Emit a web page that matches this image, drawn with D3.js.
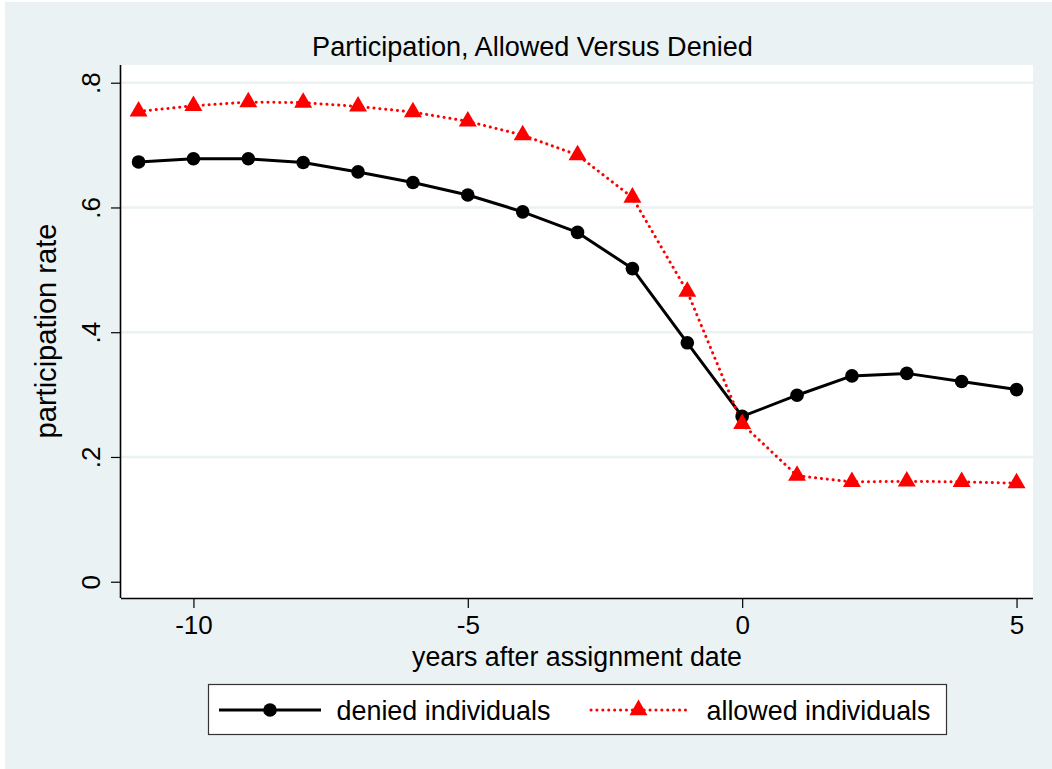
<!DOCTYPE html>
<html>
<head>
<meta charset="utf-8">
<script src="https://cdn.jsdelivr.net/npm/d3@7"></script>
<style>
  html, body { margin: 0; padding: 0; background: #ffffff; }
  svg { display: block; }
  text { font-family: "Liberation Sans", Arial, Helvetica, sans-serif; fill: #000; }
</style>
</head>
<body>
<svg id="chart" width="1052" height="769"></svg>
<script>
// ---- data ----
const years = [-11, -10, -9, -8, -7, -6, -5, -4, -3, -2, -1, 0, 1, 2, 3, 4, 5];
const denied = [0.673, 0.678, 0.678, 0.672, 0.657, 0.640, 0.620, 0.593, 0.560, 0.502, 0.383, 0.265, 0.299, 0.330, 0.334, 0.321, 0.308];
const allowed = [0.754, 0.763, 0.769, 0.768, 0.762, 0.753, 0.738, 0.716, 0.684, 0.616, 0.465, 0.253, 0.170, 0.160, 0.161, 0.160, 0.158];
const xTicks = [-10, -5, 0, 5];
const xTickLabels = ["-10", "-5", "0", "5"];
const yTicks = [0, 0.2, 0.4, 0.6, 0.8];
const yTickLabels = ["0", ".2", ".4", ".6", ".8"];
const gridValues = [0.2, 0.4, 0.6, 0.8];
const seriesNames = ["denied individuals", "allowed individuals"];
const titleText = "Participation, Allowed Versus Denied";
const xTitle = "years after assignment date";
const yTitle = "participation rate";

// ---- layout ----
const W = 1052, H = 769;
const plot = { left: 121, right: 1033, top: 65, bottom: 598 };
const BG = "#EAF2F3";
const fs = 26;

const svg = d3.select("#chart");
svg.append("rect").attr("x", 0).attr("y", 0).attr("width", W).attr("height", H).attr("fill", "#ffffff");
svg.append("rect").attr("x", 5).attr("y", 2).attr("width", W - 5).attr("height", H - 2).attr("fill", BG);
svg.append("rect").attr("x", plot.left).attr("y", plot.top)
  .attr("width", plot.right - plot.left).attr("height", plot.bottom - plot.top).attr("fill", "#ffffff");

const x = d3.scaleLinear().domain([-11.32, 5.30]).range([plot.left, plot.right]);
const y = d3.scaleLinear().domain([-0.0261, 0.8284]).range([plot.bottom, plot.top]);

// grid
svg.append("g").selectAll("line").data(gridValues).join("line")
  .attr("x1", plot.left).attr("x2", plot.right)
  .attr("y1", d => y(d)).attr("y2", d => y(d))
  .attr("stroke", BG).attr("stroke-width", 2.5);

// x axis
const xAxis = d3.axisBottom(x).tickValues(xTicks).tickSize(10).tickPadding(6)
  .tickFormat((d, i) => xTickLabels[i]);
const gx = svg.append("g").attr("transform", `translate(0,${plot.bottom})`).call(xAxis);
gx.select(".domain").attr("d", `M${plot.left},0.5H${plot.right}`).attr("stroke", "#000").attr("stroke-width", 1.6);
gx.selectAll(".tick line").attr("stroke", "#000").attr("stroke-width", 1.2);
gx.selectAll(".tick text").attr("font-size", fs).attr("font-family", "Liberation Sans, Arial, sans-serif").attr("fill", "#000")
  .attr("dy", null).attr("y", 36);

// y axis
const yAxis = d3.axisLeft(y).tickValues(yTicks).tickSize(10).tickPadding(0)
  .tickFormat((d, i) => yTickLabels[i]);
const gy = svg.append("g").attr("transform", `translate(${plot.left},0)`).call(yAxis);
gy.select(".domain").attr("d", `M-0.5,${plot.top}V${plot.bottom}`).attr("stroke", "#000").attr("stroke-width", 1.6);
gy.selectAll(".tick line").attr("stroke", "#000").attr("stroke-width", 1.2);
gy.selectAll(".tick text").attr("font-size", fs).attr("font-family", "Liberation Sans, Arial, sans-serif").attr("fill", "#000")
  .attr("x", null).attr("dy", null)
  .attr("text-anchor", "middle")
  .attr("transform", "translate(-21,0) rotate(-90)");

// lines
const line = d3.line().x((d, i) => x(years[i])).y(d => y(d));
svg.append("path").datum(denied).attr("d", line)
  .attr("fill", "none").attr("stroke", "#000").attr("stroke-width", 3).attr("stroke-linejoin", "round");
svg.append("path").datum(allowed).attr("d", line)
  .attr("fill", "none").attr("stroke", "#ff0000").attr("stroke-width", 3)
  .attr("stroke-dasharray", "0.1 5.8").attr("stroke-linecap", "round");

// markers
svg.append("g").selectAll("circle").data(denied).join("circle")
  .attr("cx", (d, i) => x(years[i])).attr("cy", d => y(d)).attr("r", 6.8).attr("fill", "#000");
const tri = d3.symbol().type(d3.symbolTriangle).size(140);
svg.append("g").selectAll("path").data(allowed).join("path")
  .attr("d", tri)
  .attr("transform", (d, i) => `translate(${x(years[i])},${y(d)})`)
  .attr("fill", "#ff0000");

// titles
function fitText(sel, target) {
  const w = sel.node().getComputedTextLength();
  const f = parseFloat(sel.attr("font-size"));
  sel.attr("font-size", f * target / w);
}
const t = svg.append("text").attr("x", 532.5).attr("y", 56).attr("text-anchor", "middle").attr("font-size", fs).text(titleText);
fitText(t, 441);
const xt = svg.append("text").attr("x", 577).attr("y", 666).attr("text-anchor", "middle").attr("font-size", fs).text(xTitle);
fitText(xt, 330);
const yt = svg.append("text").attr("text-anchor", "middle").attr("font-size", fs)
  .attr("transform", "translate(56,331) rotate(-90)").text(yTitle);
fitText(yt, 215);

// legend
const lg = svg.append("g");
lg.append("rect").attr("x", 208.5).attr("y", 684.5).attr("width", 738).attr("height", 50)
  .attr("fill", "#fff").attr("stroke", "#333").attr("stroke-width", 1.2);
const ly = 710;
lg.append("line").attr("x1", 219).attr("x2", 321).attr("y1", ly).attr("y2", ly).attr("stroke", "#000").attr("stroke-width", 3);
lg.append("circle").attr("cx", 270).attr("cy", ly).attr("r", 6.8).attr("fill", "#000");
const l1 = lg.append("text").attr("x", 336.5).attr("y", ly + 10).attr("font-size", fs).text(seriesNames[0]);
fitText(l1, 214);
lg.append("line").attr("x1", 591).attr("x2", 690).attr("y1", ly).attr("y2", ly).attr("stroke", "#ff0000").attr("stroke-width", 3)
  .attr("stroke-dasharray", "0.1 5.8").attr("stroke-linecap", "round");
lg.append("path").attr("d", tri).attr("transform", `translate(638.5,${ly})`).attr("fill", "#ff0000");
const l2 = lg.append("text").attr("x", 706.5).attr("y", ly + 10).attr("font-size", fs).text(seriesNames[1]);
fitText(l2, 224);
</script>
</body>
</html>
